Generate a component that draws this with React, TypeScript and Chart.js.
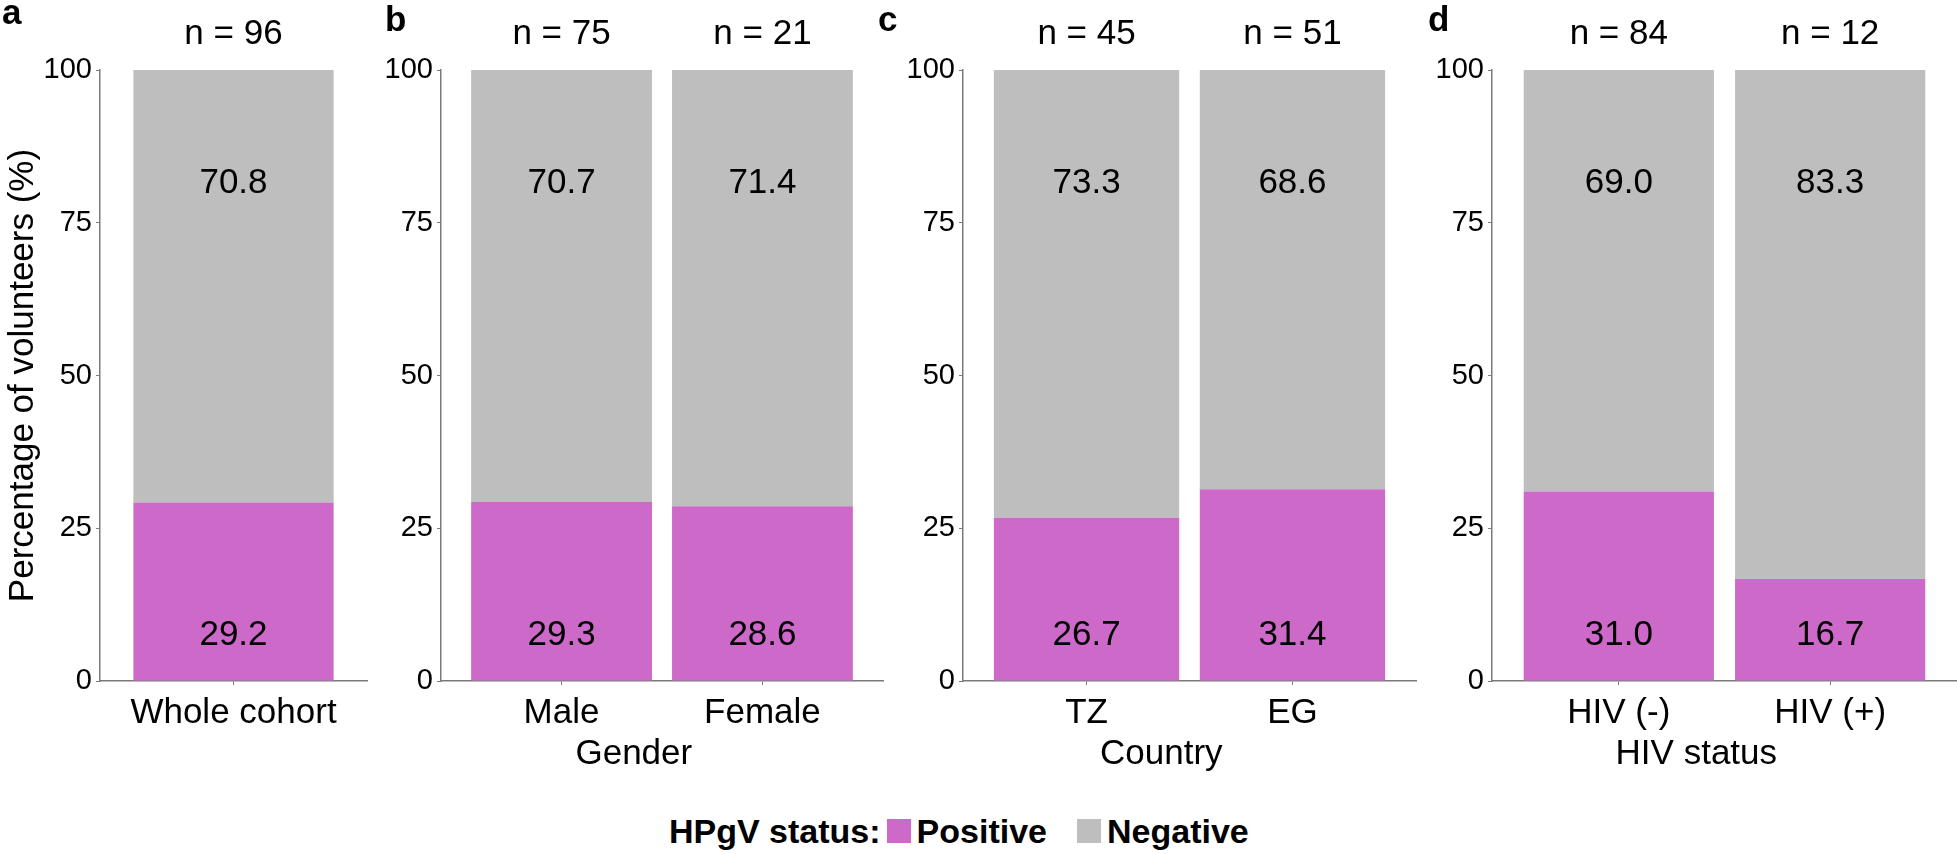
import React, { useEffect, useRef } from "react";
import { Chart, registerables } from "chart.js";

Chart.register(...registerables);

const FONT = "'Liberation Sans', Arial, Helvetica, sans-serif";
const POS_COLOR = "#CD69C9";
const NEG_COLOR = "#BEBEBE";
const AXIS_COLOR = "#7a7a7a";

// ---- data ----
const aCategories = ["Whole cohort"];
const aN = [96];
const aPositive = [29.2];
const aNegative = [70.8];

const bCategories = ["Male", "Female"];
const bN = [75, 21];
const bPositive = [29.3, 28.6];
const bNegative = [70.7, 71.4];

const cCategories = ["TZ", "EG"];
const cN = [45, 51];
const cPositive = [26.7, 31.4];
const cNegative = [73.3, 68.6];

const dCategories = ["HIV (-)", "HIV (+)"];
const dN = [84, 12];
const dPositive = [31.0, 16.7];
const dNegative = [69.0, 83.3];

const yTicks = [0, 25, 50, 75, 100];
const seriesNames = ["Positive", "Negative"];
const legendTitle = "HPgV status:";
const yTitle = "Percentage of volunteers (%)";

// ---- layout constants ----
const CANVAS_H = 800;
const PLOT_TOP = 70;
const PLOT_BOTTOM = 681;
const LABEL_LEVELS = [7.5, 81.5];
const AXIS_TITLE_Y = 754;

const valueLabelPlugin = {
  id: "valueLabels",
  afterDatasetsDraw(chart: any) {
    const ctx = chart.ctx;
    const y = chart.scales.y;
    ctx.save();
    ctx.font = `35px ${FONT}`;
    ctx.fillStyle = "#000";
    ctx.textAlign = "center";
    ctx.textBaseline = "middle";
    chart.data.datasets.forEach((ds: any, di: number) => {
      const meta = chart.getDatasetMeta(di);
      meta.data.forEach((el: any, i: number) => {
        ctx.fillText(Number(ds.data[i].y).toFixed(1), el.x, y.getPixelForValue(LABEL_LEVELS[di]));
      });
    });
    ctx.restore();
  },
};

// axis title centred on the whole panel (tick labels + plot), as in the reference
const panelTitlePlugin = {
  id: "panelTitle",
  afterDraw(chart: any, _args: any, opts: any) {
    if (!opts || !opts.text) return;
    const ctx = chart.ctx;
    const y = chart.scales.y;
    ctx.save();
    ctx.font = `29px ${FONT}`;
    const tickW = ctx.measureText("100").width;
    const leftEdge = y.right - 8 - tickW;
    const cx = (leftEdge + chart.chartArea.right) / 2;
    ctx.font = `35px ${FONT}`;
    ctx.fillStyle = "#000";
    ctx.textAlign = "center";
    ctx.textBaseline = "middle";
    ctx.fillText(opts.text, cx, AXIS_TITLE_Y);
    ctx.restore();
  },
};

type PanelProps = {
  categories: string[];
  n: number[];
  positive: number[];
  negative: number[];
  axisTitle?: string;
  showYTitle?: boolean;
  left: number;
  width: number;
  plotLeft: number;
  plotRight: number;
};

function Panel(p: PanelProps) {
  const ref = useRef<HTMLCanvasElement>(null);
  useEffect(() => {
    if (!ref.current) return;
    const k = p.categories.length;
    const xs = p.categories.map((_, i) => i + 1);
    const setTicks = (s: any) => {
      s.ticks = xs.map((v) => ({ value: v }));
    };
    const barPct = k === 1 ? 0.75 : 0.9;
    const chart = new Chart(ref.current, {
      type: "bar",
      data: {
        datasets: [
          {
            label: seriesNames[0],
            data: p.positive.map((v, i) => ({ x: xs[i], y: v })),
            backgroundColor: POS_COLOR,
            borderWidth: 0,
            barPercentage: barPct,
            categoryPercentage: 1,
          },
          {
            label: seriesNames[1],
            data: p.negative.map((v, i) => ({ x: xs[i], y: v })),
            backgroundColor: NEG_COLOR,
            borderWidth: 0,
            barPercentage: barPct,
            categoryPercentage: 1,
          },
        ],
      } as any,
      options: {
        responsive: false,
        animation: false,
        devicePixelRatio: 1,
        layout: { padding: { left: 0, right: p.width - p.plotRight, top: 0, bottom: 0 } },
        plugins: {
          legend: { display: false },
          tooltip: { enabled: false },
          panelTitle: { text: p.axisTitle || "" },
        },
        scales: {
          x: {
            type: "linear",
            position: "bottom",
            min: 0.4,
            max: k + 0.6,
            offset: false,
            stacked: true,
            bounds: "data",
            afterBuildTicks: setTicks,
            afterFit: (s: any) => {
              s.height = CANVAS_H - PLOT_BOTTOM;
            },
            ticks: {
              callback: (_v: any, i: number) => p.categories[i],
              font: { family: FONT, size: 35 },
              color: "#000",
              padding: 7,
              maxRotation: 0,
              autoSkip: false,
            },
            grid: { display: true, drawOnChartArea: false, drawTicks: true, tickLength: 4, color: AXIS_COLOR, offset: false },
            border: { display: true, color: AXIS_COLOR, width: 1.5 },
          },
          x2: {
            type: "linear",
            position: "top",
            min: 0.4,
            max: k + 0.6,
            offset: false,
            bounds: "data",
            afterBuildTicks: setTicks,
            afterFit: (s: any) => {
              s.height = PLOT_TOP;
            },
            ticks: {
              callback: (_v: any, i: number) => `n = ${p.n[i]}`,
              font: { family: FONT, size: 35 },
              color: "#000",
              padding: 7,
              maxRotation: 0,
              autoSkip: false,
            },
            grid: { display: false },
            border: { display: false },
          },
          y: {
            type: "linear",
            min: 0,
            max: 100,
            stacked: true,
            afterBuildTicks: (s: any) => {
              s.ticks = yTicks.map((v) => ({ value: v }));
            },
            afterFit: (s: any) => {
              s.width = p.plotLeft;
            },
            ticks: { font: { family: FONT, size: 29 }, color: "#000", padding: 4 },
            grid: { display: true, drawOnChartArea: false, drawTicks: true, tickLength: 4, color: AXIS_COLOR },
            border: { display: true, color: AXIS_COLOR, width: 1.5 },
            title: {
              display: !!p.showYTitle,
              text: yTitle,
              font: { family: FONT, size: 35 },
              color: "#000",
              padding: { top: 2, bottom: 0 },
            },
          },
        },
      } as any,
      plugins: [valueLabelPlugin, panelTitlePlugin],
    });
    return () => chart.destroy();
  }, []);
  return (
    <canvas
      ref={ref}
      width={p.width}
      height={CANVAS_H}
      style={{ position: "absolute", left: p.left, top: 0, width: p.width, height: CANVAS_H }}
    />
  );
}

const letterStyle = (left: number, top: number): React.CSSProperties => ({
  position: "absolute",
  left,
  top,
  fontFamily: FONT,
  fontWeight: "bold",
  fontSize: 35,
  lineHeight: 1,
  color: "#000",
});

const swatch = (color: string): React.CSSProperties => ({
  display: "inline-block",
  width: 24,
  height: 24,
  background: color,
  marginLeft: 6,
  marginRight: 6,
});

export default function App() {
  return (
    <div
      style={{
        position: "absolute",
        left: 0,
        top: 0,
        width: 1957,
        height: 854,
        background: "#fff",
        overflow: "hidden",
      }}
    >
      <Panel categories={aCategories} n={aN} positive={aPositive} negative={aNegative} showYTitle left={0} width={370} plotLeft={100} plotRight={367} />
      <Panel categories={bCategories} n={bN} positive={bPositive} negative={bNegative} axisTitle="Gender" left={380} width={510} plotLeft={61} plotRight={503} />
      <Panel categories={cCategories} n={cN} positive={cPositive} negative={cNegative} axisTitle="Country" left={890} width={530} plotLeft={73} plotRight={526} />
      <Panel categories={dCategories} n={dN} positive={dPositive} negative={dNegative} axisTitle="HIV status" left={1420} width={537} plotLeft={72} plotRight={537} />
      <div style={letterStyle(2, -6)}>a</div>
      <div style={letterStyle(385, 1)}>b</div>
      <div style={letterStyle(878, 1)}>c</div>
      <div style={letterStyle(1428, 1)}>d</div>
      <div
        style={{
          position: "absolute",
          left: 669,
          top: 812,
          height: 38,
          display: "flex",
          alignItems: "center",
          fontFamily: FONT,
          fontWeight: "bold",
          fontSize: 34,
          color: "#000",
          whiteSpace: "nowrap",
        }}
      >
        <span>{legendTitle}</span>
        <span style={swatch(POS_COLOR)} />
        <span>{seriesNames[0]}</span>
        <span style={{ ...swatch(NEG_COLOR), marginLeft: 30 }} />
        <span>{seriesNames[1]}</span>
      </div>
    </div>
  );
}
